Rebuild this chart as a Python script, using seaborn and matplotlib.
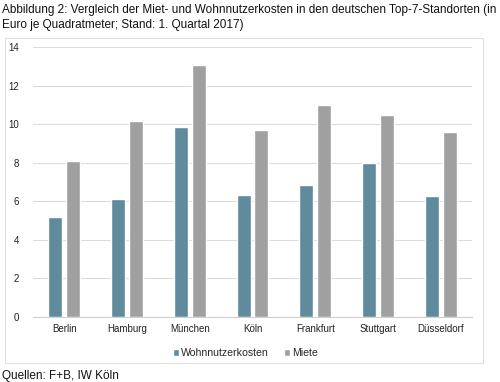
import matplotlib
matplotlib.use("Agg")
import matplotlib.pyplot as plt
import seaborn as sns
import pandas as pd
from matplotlib.patches import Rectangle

staedte = ["Berlin", "Hamburg", "München", "Köln", "Frankfurt", "Stuttgart", "Düsseldorf"]
wohnnutzerkosten = [5.2, 6.1, 9.85, 6.35, 6.85, 8.0, 6.3]
miete = [8.1, 10.15, 13.05, 9.7, 11.0, 10.45, 9.6]
serien = ["Wohnnutzerkosten", "Miete"]
yticks = [0, 2, 4, 6, 8, 10, 12, 14]

df = pd.DataFrame({
    "Stadt": staedte * 2,
    "Wert": wohnnutzerkosten + miete,
    "Serie": [serien[0]] * len(staedte) + [serien[1]] * len(staedte),
})

sns.set_style("white")
plt.rcParams["font.family"] = ["Liberation Sans", "DejaVu Sans"]

fig = plt.figure(figsize=(5.0, 3.82), dpi=100)
ax = fig.add_axes([0.066, 0.170, 0.878, 0.707])

palette = {"Wohnnutzerkosten": "#5F8B9D", "Miete": "#A0A0A0"}
sns.barplot(data=df, x="Stadt", y="Wert", hue="Serie", order=staedte,
            hue_order=serien, palette=palette, width=0.57, gap=0.22,
            saturation=1, ax=ax, legend=True)

ax.set_ylim(0, 14)
ax.set_xlim(-0.5, len(staedte) - 0.5)
ax.set_yticks(yticks)
ax.set_yticklabels([str(t) for t in yticks])
ax.yaxis.grid(True, color="#DCDCDC", linewidth=0.8)
ax.set_axisbelow(True)
for s in ["top", "right", "left"]:
    ax.spines[s].set_visible(False)
ax.spines["bottom"].set_color("#D0D0D0")
ax.spines["bottom"].set_linewidth(0.8)
ax.set_xlabel("")
ax.set_ylabel("")
ax.tick_params(axis="both", length=0, labelsize=7, colors="#222222")
ax.tick_params(axis="y", pad=10)
ax.tick_params(axis="x", pad=5)

leg = ax.legend(loc="upper center", bbox_to_anchor=(0.484, -0.08), ncol=2,
                frameon=False, fontsize=7.6, handlelength=0.55, handleheight=0.55,
                handletextpad=0.25, columnspacing=1.4)

fig.patches.append(Rectangle((5 / 500, 1 - 363 / 382), 478 / 500, (363 - 38) / 382,
                             transform=fig.transFigure, fill=False,
                             edgecolor="#E0E0E0", linewidth=0.8))

fig.text(0.004, 1 - 10 / 382, "Abbildung 2: Vergleich der Miet- und Wohnnutzerkosten in den deutschen Top-7-Standorten (in",
         fontsize=8.5, va="center", ha="left", color="#111111")
fig.text(0.004, 1 - 25 / 382, "Euro je Quadratmeter; Stand: 1. Quartal 2017)",
         fontsize=8.5, va="center", ha="left", color="#111111")
fig.text(0.004, 1 - 376 / 382, "Quellen: F+B, IW Köln",
         fontsize=8.5, va="center", ha="left", color="#111111")

fig.savefig("out.png", dpi=100)
